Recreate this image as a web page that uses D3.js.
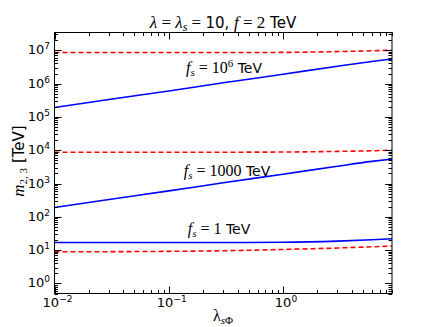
<!DOCTYPE html>
<html>
<head>
<meta charset="utf-8">
<script src="https://cdn.jsdelivr.net/npm/d3@7"></script>
<style>
  body { margin: 0; background: #fff; }
  text { font-family: "DejaVu Sans", sans-serif; }
  .math { font-family: "Liberation Serif", serif; font-style: italic; }
  .rm { font-family: "Liberation Serif", serif; }
</style>
</head>
<body>
<svg id="chart" width="436" height="327"></svg>
<script>
// lambda_sPhi sample points
const lam = [0.01, 0.03, 0.1, 0.3, 1, 3, 6, 9];

// f_s = 10^6 TeV
const blueHigh = [1.9e5, 3.3e5, 6.0e5, 1.05e6, 1.9e6, 3.3e6, 4.6e6, 5.5e6];
const redHigh  = [8.5e6, 8.5e6, 8.5e6, 8.5e6, 8.6e6, 9.1e6, 9.6e6, 1.0e7];
// f_s = 1000 TeV
const blueMid  = [190, 330, 600, 1050, 1900, 3300, 4600, 5400];
const redMid   = [8.7e3, 8.7e3, 8.7e3, 8.7e3, 8.8e3, 9.2e3, 9.6e3, 1.0e4];
// f_s = 1 TeV
const blueLow  = [17, 17, 17, 17, 17.2, 18.6, 20.5, 22];
const redLow   = [8.9, 9.0, 9.2, 9.6, 10.5, 11.6, 12.6, 13.3];

const xTicks = [0.01, 0.1, 1];
const xTickExp = ["\u22122", "\u22121", "0"];
const yTicks = [1, 10, 100, 1e3, 1e4, 1e5, 1e6, 1e7];
const yTickExp = ["0", "1", "2", "3", "4", "5", "6", "7"];

const svg = d3.select('#chart');
const mLeft = 54.5, mRight = 392, mTop = 32.5, mBottom = 293.5;

let x = d3.scaleLog().domain([0.01, 9]).range([mLeft, mRight]);
let y = d3.scaleLog().domain([0.5, 3.4e7]).range([mBottom, mTop]);

let plot = svg.append('g');

// clip so the curves end at the frame
svg.append('defs').append('clipPath').attr('id', 'clip')
    .append('rect')
    .attr('x', mLeft).attr('y', mTop)
    .attr('width', mRight - mLeft).attr('height', mBottom - mTop);

let line = d3.line()
    .x(function(d) { return x(d[0]); })
    .y(function(d) { return y(d[1]); })
    .curve(d3.curveMonotoneX);

let series = [
    { v: redHigh, color: '#ff0000', dash: '5,3' },
    { v: redMid, color: '#ff0000', dash: '5,3' },
    { v: redLow, color: '#ff0000', dash: '5,3' },
    { v: blueHigh, color: '#0000ff', dash: null },
    { v: blueMid, color: '#0000ff', dash: null },
    { v: blueLow, color: '#0000ff', dash: null }
];

plot.append('g').attr('clip-path', 'url(#clip)')
    .selectAll('path')
    .data(series)
    .enter().append('path')
    .attr('d', function(s) { return line(lam.map(function(l, i) { return [l, s.v[i]]; })); })
    .attr('fill', 'none')
    .attr('stroke', function(s) { return s.color; })
    .attr('stroke-width', 1.6)
    .attr('stroke-dasharray', function(s) { return s.dash; });

// ticks on all four sides, pointing inwards
let xMinor = [];
[0.01, 0.1, 1].forEach(function(d) {
    for (let k = 2; k <= 9; k++) if (d * k <= 9) xMinor.push(d * k);
});
let yMinor = [];
[0.1, 1, 10, 100, 1e3, 1e4, 1e5, 1e6, 1e7].forEach(function(d) {
    for (let k = 2; k <= 9; k++) {
        let v = d * k;
        if (v >= 0.5 && v <= 3.4e7) yMinor.push(v);
    }
});

let ticks = plot.append('g').attr('stroke', '#000').attr('stroke-width', 1);
function xTick(v, len) {
    let px = Math.round(x(v)) + 0.5;
    ticks.append('line').attr('x1', px).attr('x2', px).attr('y1', mBottom).attr('y2', mBottom - len);
    ticks.append('line').attr('x1', px).attr('x2', px).attr('y1', mTop).attr('y2', mTop + len);
}
function yTick(v, len) {
    let py = Math.round(y(v)) + 0.5;
    ticks.append('line').attr('y1', py).attr('y2', py).attr('x1', mLeft).attr('x2', mLeft + len);
    ticks.append('line').attr('y1', py).attr('y2', py).attr('x1', mRight).attr('x2', mRight - len);
}
xTicks.forEach(function(v) { xTick(v, 7); });
xMinor.forEach(function(v) { xTick(v, 3.5); });
yTicks.forEach(function(v) { yTick(v, 7); });
yMinor.forEach(function(v) { yTick(v, 3.5); });

// frame
plot.append('rect')
    .attr('x', mLeft).attr('y', mTop)
    .attr('width', mRight - mLeft).attr('height', mBottom - mTop)
    .attr('fill', 'none').attr('stroke', '#000').attr('stroke-width', 1);

// tick labels
let xl = svg.append('g').attr('font-size', 13).attr('text-anchor', 'middle');
xTicks.forEach(function(v, i) {
    let t = xl.append('text').attr('x', x(v) + 3).attr('y', 307);
    t.append('tspan').text('10');
    t.append('tspan').attr('font-size', 9).attr('dy', -5).text(xTickExp[i]);
});

let yl = svg.append('g').attr('font-size', 13).attr('text-anchor', 'end');
yTicks.forEach(function(v, i) {
    let t = yl.append('text').attr('x', 50).attr('y', y(v) + 4);
    t.append('tspan').text('10');
    t.append('tspan').attr('font-size', 9).attr('dy', -5).text(yTickExp[i]);
});

// title
let title = svg.append('text')
    .attr('x', 223).attr('y', 28)
    .attr('text-anchor', 'middle').attr('font-size', 15);
title.append('tspan').attr('class', 'math').attr('font-size', 17).text('λ');
title.append('tspan').attr('class', 'rm').attr('font-size', 17).text(' = ');
title.append('tspan').attr('class', 'math').attr('font-size', 17).text('λ');
title.append('tspan').attr('class', 'math').attr('font-size', 12).attr('dy', 3).text('s');
title.append('tspan').attr('class', 'rm').attr('font-size', 17).attr('dy', -3).text(' = ');
title.append('tspan').text('10, ');
title.append('tspan').attr('class', 'math').attr('font-size', 17).text('f');
title.append('tspan').attr('class', 'rm').attr('font-size', 17).text(' = 2');
title.append('tspan').text(' TeV');

// curve annotations
function fsLabel(cx, cy, value, sup) {
    let t = svg.append('text')
        .attr('x', cx).attr('y', cy)
        .attr('text-anchor', 'middle').attr('font-size', 14);
    t.append('tspan').attr('class', 'math').attr('font-size', 16).text('f');
    t.append('tspan').attr('class', 'math').attr('font-size', 11).attr('dy', 3).text('s');
    t.append('tspan').attr('class', 'rm').attr('font-size', 16).attr('dy', -3).text(' = ' + value);
    if (sup) {
        t.append('tspan').attr('class', 'rm').attr('font-size', 11).attr('dy', -6).text(sup);
        t.append('tspan').attr('dy', 6).text(' TeV');
    } else {
        t.append('tspan').text(' TeV');
    }
}
fsLabel(224, 73, '10', '6');
fsLabel(227, 176, '1000', null);
fsLabel(219, 234, '1', null);

// axis labels
let xlab = svg.append('text')
    .attr('x', 223).attr('y', 321)
    .attr('text-anchor', 'middle').attr('font-size', 14);
xlab.append('tspan').attr('class', 'rm').attr('font-size', 16).text('λ');
xlab.append('tspan').attr('class', 'math').attr('font-size', 11).attr('dy', 3).text('s');
xlab.append('tspan').attr('class', 'rm').attr('font-size', 11).text('Φ');

let ylab = svg.append('text')
    .attr('transform', 'translate(24,161) rotate(-90)')
    .attr('text-anchor', 'middle').attr('font-size', 15);
ylab.append('tspan').attr('class', 'math').attr('font-size', 17).text('m');
ylab.append('tspan').attr('class', 'rm').attr('font-size', 11).attr('dy', 3).text('2, 3');
ylab.append('tspan').attr('dy', -3).text(' [TeV]');
</script>
</body>
</html>
